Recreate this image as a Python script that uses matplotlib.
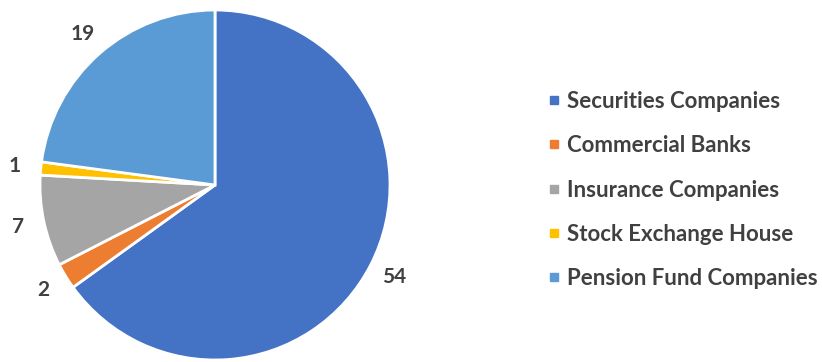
import matplotlib.pyplot as plt
from matplotlib.lines import Line2D

categories = ["Securities Companies", "Commercial Banks", "Insurance Companies",
              "Stock Exchange House", "Pension Fund Companies"]
values = [54, 2, 7, 1, 19]
colors = ["#4472C4", "#ED7D31", "#A5A5A5", "#FFC000", "#5B9BD5"]

plt.rcParams['font.family'] = ['Lato', 'DejaVu Sans']

fig = plt.figure(figsize=(8.22, 3.62), dpi=100)
ax = fig.add_axes([40 / 822, 2 / 362, 350 / 822, 350 / 362])

wedges, texts = ax.pie(values, colors=colors, startangle=90, counterclock=False,
                       labels=[str(v) for v in values], labeldistance=1.15,
                       wedgeprops=dict(edgecolor="white", linewidth=2))
for t in texts:
    t.set_ha("center")
    t.set_va("center")
    t.set_fontsize(15)
    t.set_fontweight("bold")
    t.set_color("#404040")
ax.set_xlim(-1, 1)
ax.set_ylim(-1, 1)
ax.set_aspect("equal")

handles = [Line2D([], [], marker="s", linestyle="none", markersize=6,
                  markerfacecolor=c, markeredgecolor=c) for c in colors]
fig.legend(handles, categories, loc="center left", bbox_to_anchor=(527 / 822, 0.475),
           frameon=False, handlelength=0.6, handletextpad=0.3, labelspacing=1.05,
           prop=dict(size=16, weight="bold"), labelcolor="#404040")

fig.savefig("out.png", dpi=100)
